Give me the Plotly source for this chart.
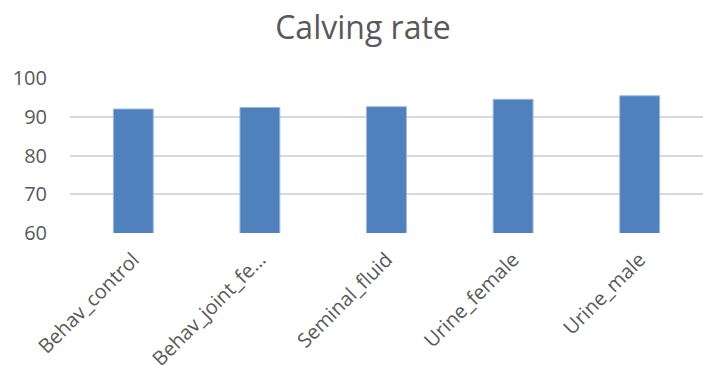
import plotly.graph_objects as go

# Calving rate by treatment group
categories = ["Behav_control", "Behav_joint_fe…", "Seminal_fluid", "Urine_female", "Urine_male"]
calving_rate = [92.0, 92.4, 92.6, 94.5, 95.4]
y_ticks = [60, 70, 80, 90, 100]

TEXT = "#595959"
GRID = "#D9D9D9"
FONT = "Open Sans"

fig = go.Figure(
    go.Bar(
        x=categories,
        y=calving_rate,
        marker=dict(color="#4F81BD", line=dict(color="#9DB9DE", width=1)),
        hoverinfo="x+y",
    )
)

fig.update_layout(
    width=703,
    height=365,
    margin=dict(l=70, r=0, t=78, b=132, autoexpand=False),
    paper_bgcolor="white",
    plot_bgcolor="white",
    bargap=0.685,
    showlegend=False,
    font=dict(family=FONT, color=TEXT, size=20),
    title=dict(
        text="Calving rate",
        x=363 / 703,
        xanchor="center",
        xref="container",
        y=1 - 28 / 365,
        yanchor="middle",
        font=dict(family=FONT, size=32, color=TEXT),
    ),
)

fig.update_xaxes(
    tickangle=-45,
    showgrid=False,
    showline=False,
    ticks="",
    automargin=False,
    ticklabelstandoff=10,
    tickfont=dict(family=FONT, size=20, color=TEXT),
)

fig.update_yaxes(
    range=[60, 100],
    tickvals=y_ticks,
    showgrid=True,
    gridcolor=GRID,
    gridwidth=1.5,
    zeroline=False,
    showline=False,
    ticks="",
    automargin=False,
    ticklabelstandoff=22,
    tickfont=dict(family=FONT, size=20, color=TEXT),
)

fig.write_html("out.html")
